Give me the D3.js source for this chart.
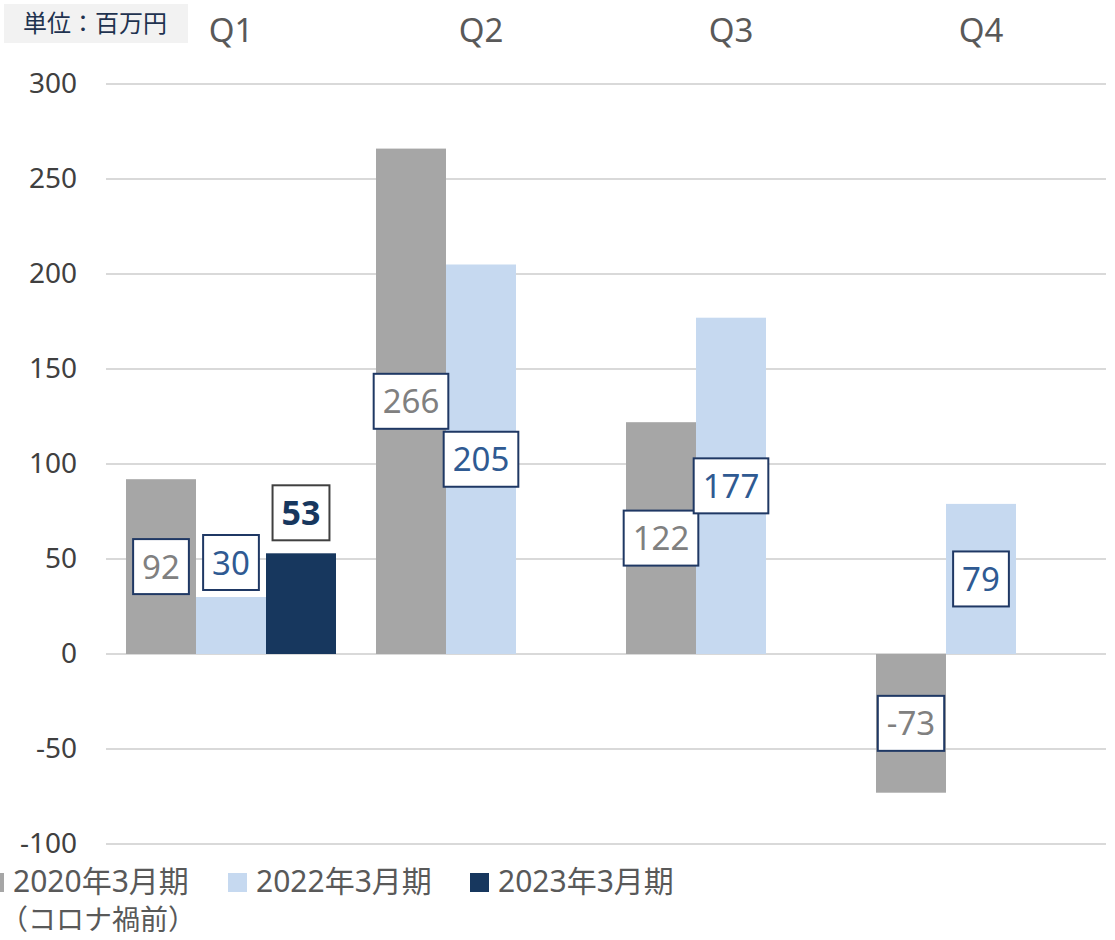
<!DOCTYPE html>
<html>
<head>
<meta charset="utf-8">
<script src="https://cdn.jsdelivr.net/npm/d3@7"></script>
<style>
  body { margin: 0; background: #fff; }
  svg { display: block; font-family: "Noto Sans", "Noto Sans CJK JP", sans-serif; }
</style>
</head>
<body>
<div id="chart"></div>
<script>
// data
var quarters = ["Q1", "Q2", "Q3", "Q4"];
var seriesNames = ["2020年3月期", "2022年3月期", "2023年3月期"];
var values2020 = [92, 266, 122, -73];
var values2022 = [30, 205, 177, 79];
var values2023 = [53, null, null, null];
// where each value label sits: "c" = middle of bar, "e" = above the bar
var labelPos2020 = ["c", "c", "c", "c"];
var labelPos2022 = ["e", "c", "c", "c"];
var labelPos2023 = ["e", "e", "e", "e"];
var yTicks = [-100, -50, 0, 50, 100, 150, 200, 250, 300];
var unitText = "単位：百万円";
var legendNote = "（コロナ禍前）";

var colors = ["#a6a6a6", "#c6d9f0", "#17375e"];
var labelColors = ["#808080", "#2f5a92", "#17375e"];

var width = 1115, height = 940;

var svg = d3.select("#chart").append("svg")
    .attr("width", width)
    .attr("height", height);

var xScale = d3.scaleBand().domain(quarters).range([106, 1106]);
var xInner = d3.scaleBand().domain(seriesNames).range([20, 230]);
var yScale = d3.scaleLinear().domain([-100, 300]).range([844, 84]);

// gridlines
svg.append("g").selectAll("line")
    .data(yTicks)
    .enter()
    .append("line")
    .attr("x1", 106).attr("x2", 1106)
    .attr("y1", function(d) { return yScale(d); })
    .attr("y2", function(d) { return yScale(d); })
    .attr("stroke", "#d9d9d9")
    .attr("stroke-width", 2);

// y axis labels (plain hyphen for negatives, like the original)
var yAxis = d3.axisLeft(yScale)
    .tickValues(yTicks)
    .tickFormat(function(d) { return String(d); })
    .tickSize(0).tickPadding(0);
var yg = svg.append("g")
    .attr("transform", "translate(77,0)")
    .call(yAxis);
yg.select(".domain").remove();
yg.selectAll("text")
    .attr("font-size", 28)
    .attr("fill", "#404040")
    .attr("font-family", "Noto Sans");

// quarter labels on top
var xAxis = d3.axisTop(xScale).tickSize(0).tickPadding(0);
var xg = svg.append("g")
    .attr("transform", "translate(0,42)")
    .call(xAxis);
xg.select(".domain").remove();
xg.selectAll("text")
    .attr("font-size", 33)
    .attr("fill", "#595959")
    .attr("font-family", "Noto Sans");

// unit box
svg.append("rect")
    .attr("x", 4).attr("y", 4)
    .attr("width", 184).attr("height", 39)
    .attr("fill", "#f2f2f2");
svg.append("text")
    .attr("x", 95).attr("y", 32)
    .attr("text-anchor", "middle")
    .attr("font-size", 24)
    .attr("fill", "#1f3350")
    .attr("font-family", "Noto Sans CJK JP")
    .text(unitText);

var allValues = [values2020, values2022, values2023];
var allPos = [labelPos2020, labelPos2022, labelPos2023];

var bars = [];
allValues.forEach(function(vals, s) {
    vals.forEach(function(v, q) {
        if (v === null) return;
        bars.push({ s: s, q: q, v: v, pos: allPos[s][q] });
    });
});

svg.append("g").selectAll("rect")
    .data(bars)
    .enter()
    .append("rect")
    .attr("x", function(d) { return xScale(quarters[d.q]) + xInner(seriesNames[d.s]); })
    .attr("y", function(d) { return yScale(Math.max(0, d.v)); })
    .attr("width", xInner.bandwidth())
    .attr("height", function(d) { return Math.abs(yScale(d.v) - yScale(0)); })
    .attr("fill", function(d) { return colors[d.s]; });

// value labels in boxes
var boxH = 55;
var labels = svg.append("g").selectAll("g")
    .data(bars)
    .enter()
    .append("g");

labels.each(function(d) {
    var g = d3.select(this);
    var cx = xScale(quarters[d.q]) + xInner(seriesNames[d.s]) + xInner.bandwidth() / 2;
    var cy;
    if (d.pos === "c") {
        cy = (yScale(d.v) + yScale(0)) / 2;
    } else {
        cy = yScale(d.v) - (d.s === 2 ? 13 : 7) - boxH / 2;
    }
    var rect = g.append("rect");
    var t = g.append("text")
        .attr("x", cx)
        .attr("y", cy + 12)
        .attr("text-anchor", "middle")
        .attr("font-size", d.s === 2 ? 34 : 33)
        .attr("font-weight", d.s === 2 ? "bold" : "normal")
        .attr("fill", labelColors[d.s])
        .attr("font-family", "Noto Sans")
        .text(d.v);
    var w = t.node().getComputedTextLength() + 18;
    rect.attr("x", cx - w / 2)
        .attr("y", cy - boxH / 2)
        .attr("width", w)
        .attr("height", boxH)
        .attr("fill", "#fff")
        .attr("stroke", d.s === 2 ? "#404040" : "#1f3864")
        .attr("stroke-width", 2);
});

// legend
var legendX = [-15, 228, 470];
var legend = svg.append("g").selectAll("g")
    .data(seriesNames)
    .enter()
    .append("g")
    .attr("transform", function(d, i) { return "translate(" + legendX[i] + ",0)"; });

legend.append("rect")
    .attr("x", 0).attr("y", 873)
    .attr("width", 19).attr("height", 19)
    .attr("fill", function(d, i) { return colors[i]; });

legend.append("text")
    .attr("x", 28).attr("y", 892)
    .attr("font-size", 30)
    .attr("fill", "#595959")
    .attr("font-family", "Noto Sans, Noto Sans CJK JP")
    .text(function(d) { return d; });

svg.append("text")
    .attr("x", 0).attr("y", 930)
    .attr("font-size", 28)
    .attr("fill", "#595959")
    .attr("font-family", "Noto Sans CJK JP")
    .text(legendNote);
</script>
</body>
</html>
